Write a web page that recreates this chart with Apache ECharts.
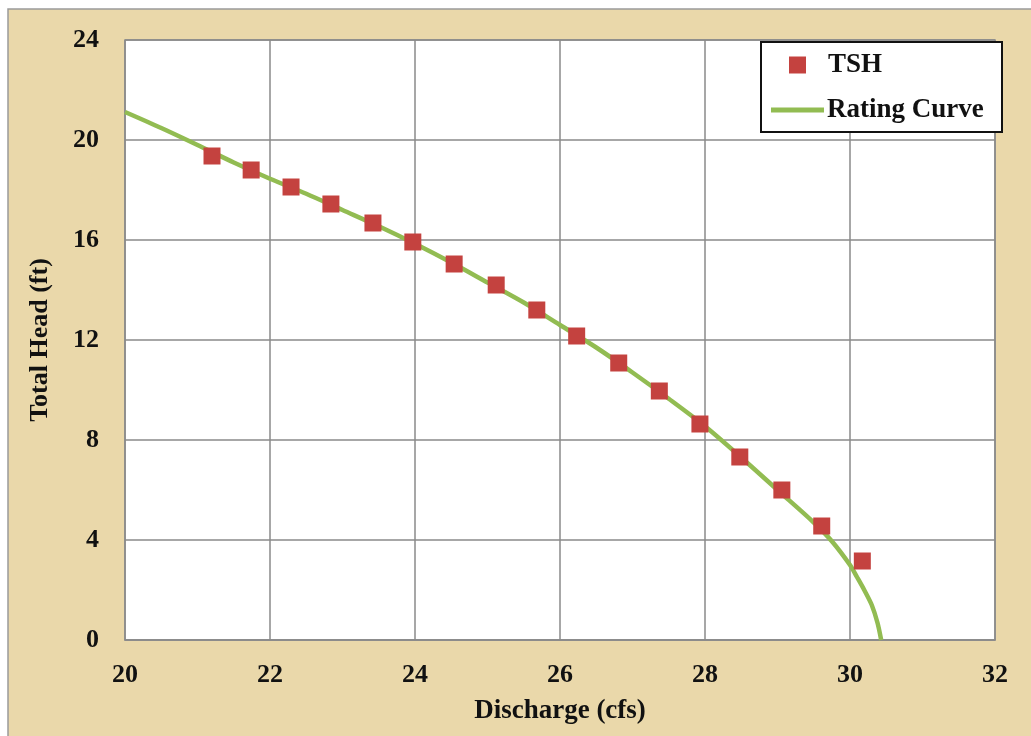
<!DOCTYPE html>
<html>
<head>
<meta charset="utf-8">
<script src="https://cdn.jsdelivr.net/npm/echarts@6/dist/echarts.min.js"></script>
<style>
html,body{margin:0;padding:0;background:#ffffff;}
#chart{width:1031px;height:736px;}
</style>
</head>
<body>
<div id="chart"></div>
<script>
// Measured points (TSH) : discharge (cfs), total head (ft)
const tshDischarge = [21.2, 21.74, 22.29, 22.84, 23.42, 23.97, 24.54, 25.12, 25.68, 26.23, 26.81, 27.37, 27.93, 28.48, 29.06, 29.61, 30.17];
const tshHead      = [19.36, 18.8, 18.12, 17.44, 16.68, 15.92, 15.04, 14.2, 13.2, 12.16, 11.08, 9.96, 8.64, 7.32, 6.0, 4.56, 3.16];

// Rating curve
const curveDischarge = [20, 20.5, 21, 21.5, 22, 22.5, 23, 23.5, 24, 24.5, 25, 25.5, 26, 26.5, 27, 27.5, 28, 28.5, 29, 29.5, 29.75, 30, 30.1, 30.2, 30.3, 30.38, 30.43];
const curveHead      = [21.12, 20.48, 19.8, 19.1, 18.45, 17.85, 17.2, 16.55, 15.85, 15.1, 14.3, 13.5, 12.6, 11.7, 10.7, 9.65, 8.55, 7.3, 6.0, 4.7, 3.95, 3.0, 2.5, 1.98, 1.4, 0.68, 0];

const xTicks = [20, 22, 24, 26, 28, 30, 32];
const yTicks = [0, 4, 8, 12, 16, 20, 24];

const FONT = '"Liberation Serif", "Times New Roman", serif';

const chart = echarts.init(document.getElementById('chart'), null, {renderer: 'canvas'});

const option = {
  backgroundColor: '#ffffff',
  animation: false,
  graphic: [
    {
      type: 'rect', z: -10, silent: true,
      shape: {x: 8, y: 9, width: 1030, height: 734},
      style: {fill: '#ead8aa', stroke: '#9a9a9a', lineWidth: 1.5}
    },
    {
      type: 'rect', z: 5, silent: true,
      shape: {x: 761, y: 42, width: 241, height: 90},
      style: {fill: '#ffffff', stroke: '#111111', lineWidth: 2}
    }
  ],
  grid: {
    left: 125, right: 36, top: 40, bottom: 96,
    show: true, backgroundColor: '#ffffff', borderColor: '#8a8a8a', borderWidth: 1.5
  },
  xAxis: {
    type: 'value', min: xTicks[0], max: xTicks[xTicks.length - 1], interval: 2,
    name: 'Discharge (cfs)', nameLocation: 'middle', nameGap: 58,
    nameTextStyle: {fontFamily: FONT, fontWeight: 'bold', fontSize: 27, color: '#111'},
    axisLine: {show: true, lineStyle: {color: '#8a8a8a', width: 1.5}},
    axisTick: {show: false},
    axisLabel: {fontFamily: FONT, fontWeight: 'bold', fontSize: 26, color: '#111', margin: 22},
    splitLine: {show: true, lineStyle: {color: '#8a8a8a', width: 1.5}}
  },
  yAxis: {
    type: 'value', min: yTicks[0], max: yTicks[yTicks.length - 1], interval: 4,
    name: 'Total Head (ft)', nameLocation: 'middle', nameGap: 72,
    nameTextStyle: {fontFamily: FONT, fontWeight: 'bold', fontSize: 26, color: '#111'},
    axisLine: {show: false},
    axisTick: {show: false},
    axisLabel: {fontFamily: FONT, fontWeight: 'bold', fontSize: 26, color: '#111', margin: 26},
    splitLine: {show: true, lineStyle: {color: '#8a8a8a', width: 1.5}}
  },
  legend: [
    {
      z: 10, left: 789, top: 50, orient: 'vertical', padding: 0,
      itemWidth: 17, itemHeight: 17,
      data: [{name: 'TSH', icon: 'rect'}],
      textStyle: {fontFamily: FONT, fontWeight: 'bold', fontSize: 27, color: '#111', lineHeight: 30, padding: [0, 0, 0, 17]}
    },
    {
      z: 10, left: 771, top: 95, orient: 'vertical', padding: 0,
      itemWidth: 53, itemHeight: 5,
      data: [{name: 'Rating Curve', icon: 'rect', itemStyle: {color: '#92bc52'}}],
      textStyle: {fontFamily: FONT, fontWeight: 'bold', fontSize: 27, color: '#111', lineHeight: 30, padding: [0, 0, 0, -2]}
    }
  ],
  series: [
    {
      name: 'Rating Curve', type: 'line', z: 2,
      data: curveDischarge.map((x, i) => [x, curveHead[i]]),
      smooth: 0.3, symbol: 'none',
      lineStyle: {color: '#92bc52', width: 4.5},
      itemStyle: {color: '#92bc52'}
    },
    {
      name: 'TSH', type: 'scatter', z: 3,
      data: tshDischarge.map((x, i) => [x, tshHead[i]]),
      symbol: 'rect', symbolSize: 17,
      itemStyle: {color: '#c4423f', opacity: 1}
    }
  ]
};
chart.setOption(option);
</script>
</body>
</html>
